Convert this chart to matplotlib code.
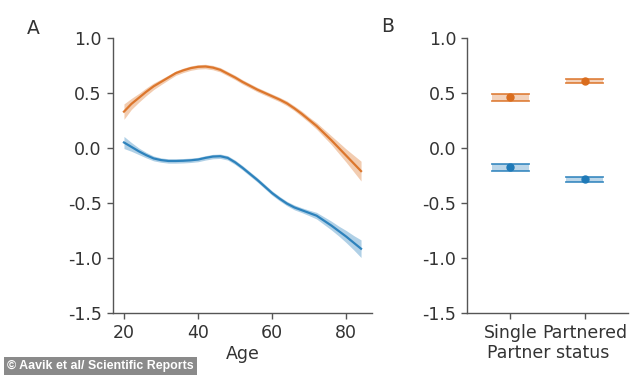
import matplotlib
matplotlib.use("Agg")
import matplotlib.pyplot as plt
import numpy as np

# ---- data ----
ages = [20, 22, 24, 26, 28, 30, 32, 34, 36, 38, 40, 42, 44, 46, 48, 50, 52,
        54, 56, 58, 60, 62, 64, 66, 68, 70, 72, 74, 76, 78, 80, 82, 84]
orange_age = [0.33, 0.40, 0.455, 0.51, 0.56, 0.60, 0.64, 0.68, 0.705, 0.725, 0.737, 0.74, 0.73,
              0.71, 0.675, 0.64, 0.60, 0.565, 0.53, 0.50, 0.47, 0.44, 0.405, 0.36, 0.31, 0.255,
              0.20, 0.135, 0.07, 0.00, -0.07, -0.14, -0.21]
orange_ci = [0.07, 0.05, 0.04, 0.035, 0.03, 0.025, 0.022, 0.02, 0.02, 0.02, 0.02, 0.02, 0.02,
             0.02, 0.02, 0.02, 0.02, 0.02, 0.02, 0.02, 0.02, 0.02, 0.022, 0.022, 0.025, 0.025,
             0.03, 0.035, 0.04, 0.05, 0.06, 0.075, 0.09]
blue_age = [0.05, 0.01, -0.03, -0.065, -0.095, -0.11, -0.118, -0.118, -0.116, -0.112, -0.105,
            -0.09, -0.078, -0.075, -0.09, -0.13, -0.18, -0.235, -0.29, -0.35, -0.41, -0.46,
            -0.505, -0.54, -0.565, -0.59, -0.615, -0.66, -0.705, -0.755, -0.805, -0.86, -0.915]
blue_ci = [0.055, 0.04, 0.03, 0.025, 0.022, 0.02, 0.02, 0.02, 0.02, 0.02, 0.02, 0.02, 0.02,
           0.02, 0.02, 0.02, 0.02, 0.02, 0.02, 0.02, 0.02, 0.02, 0.02, 0.022, 0.022, 0.025,
           0.03, 0.035, 0.04, 0.045, 0.055, 0.065, 0.08]

status = ["Single", "Partnered"]
orange_status = [0.46, 0.61]
orange_status_ci = [0.03, 0.02]
blue_status = [-0.175, -0.285]
blue_status_ci = [0.03, 0.02]

yticks = [-1.5, -1.0, -0.5, 0.0, 0.5, 1.0]
xticks_age = [20, 40, 60, 80]

ORANGE = "#DA6D1E"
BLUE = "#1F7AB8"
TXT = "#333333"
SPINE = "#555555"
FS = 12.5

fig = plt.figure(figsize=(6.34, 3.75), dpi=100)
axA = fig.add_axes([0.178, 0.165, 0.409, 0.734])
axB = fig.add_axes([0.737, 0.165, 0.254, 0.734])

for ax in (axA, axB):
    ax.spines["top"].set_visible(False)
    ax.spines["right"].set_visible(False)
    for s in ("left", "bottom"):
        ax.spines[s].set_color(SPINE)
        ax.spines[s].set_linewidth(1.0)
    ax.set_ylim(-1.5, 1.0)
    ax.set_yticks(yticks)
    ax.set_yticklabels([f"{v:.1f}" for v in yticks])
    ax.tick_params(colors=SPINE, labelcolor=TXT, labelsize=FS, length=4, width=1.0, pad=4)

# Panel A
a = np.array(ages)
for vals, ci, c in ((orange_age, orange_ci, ORANGE), (blue_age, blue_ci, BLUE)):
    v = np.array(vals); e = np.array(ci)
    axA.fill_between(a, v - e, v + e, color=c, alpha=0.35, lw=0)
    axA.plot(a, v, color=c, lw=1.6, alpha=0.9)
axA.set_xlim(17, 87)
axA.set_xticks(xticks_age)
axA.set_xlabel("Age", fontsize=FS, color=TXT, labelpad=2)

# Panel B
xs = np.arange(len(status))
for vals, ci, c in ((orange_status, orange_status_ci, ORANGE), (blue_status, blue_status_ci, BLUE)):
    for x, v, e in zip(xs, vals, ci):
        axB.fill_between([x - 0.25, x + 0.25], [v - e] * 2, [v + e] * 2, color=c, alpha=0.3, lw=0)
        axB.plot([x - 0.25, x + 0.25], [v - e] * 2, color=c, lw=1.3, alpha=0.8)
        axB.plot([x - 0.25, x + 0.25], [v + e] * 2, color=c, lw=1.3, alpha=0.8)
    axB.plot(xs, vals, "o", color=c, ms=5, ls="none")
axB.set_xlim(-0.58, 1.59)
axB.set_xticks(xs)
axB.set_xticklabels(status)
axB.set_xlabel("Partner status", fontsize=FS, color=TXT, labelpad=1)

fig.text(27 / 634, 1 - 28 / 375, "A", fontsize=13.5, color=TXT, ha="left", va="center")
fig.text(381 / 634, 1 - 27 / 375, "B", fontsize=13.5, color=TXT, ha="left", va="center")

fig.text(7 / 634, 1 - 366 / 375, "\u00a9 Aavik et al/ Scientific Reports", fontsize=8.9,
         family="Liberation Sans", weight="bold", color="white", ha="left", va="center",
         bbox=dict(boxstyle="square,pad=0.25", fc="#8a8a8a", ec="none"))

fig.savefig("out.png", dpi=100)
